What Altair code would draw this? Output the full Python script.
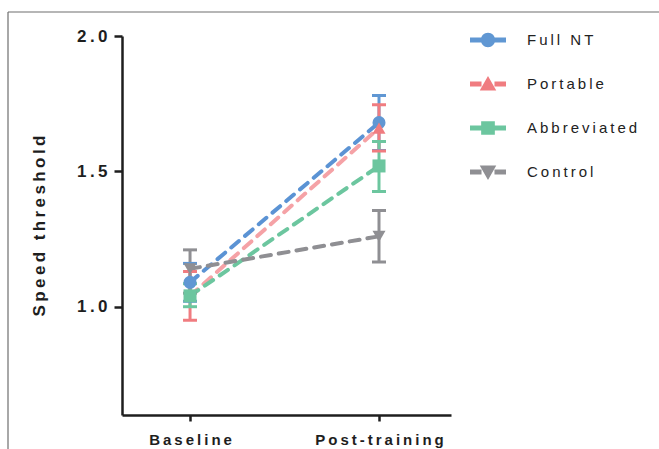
import json
import altair as alt
import pandas as pd

# ---- data ----
series = ["Full NT", "Portable", "Abbreviated", "Control"]
timepoints = ["Baseline", "Post-training"]
baseline_mean = [1.09, 1.04, 1.04, 1.14]
baseline_lo = [1.02, 0.95, 1.00, 1.05]
baseline_hi = [1.16, 1.13, 1.085, 1.21]
post_mean = [1.68, 1.66, 1.52, 1.26]
post_lo = [1.577, 1.575, 1.426, 1.165]
post_hi = [1.78, 1.746, 1.61, 1.355]

marker_colors = ["#6097d3", "#f07c80", "#6cc69f", "#8f8f93"]
line_colors = ["#5b93d4", "#f5a2a6", "#6cc69f", "#8f8f93"]
shapes = ["circle", "triangle-up", "square", "triangle-down"]

# legend glyphs: short line with the marker in the middle (unit box -1..1)
bar_l = "M-1,-0.14H-0.36V0.14H-1Z"
bar_r = "M0.36,-0.14H1V0.14H0.36Z"
legend_paths = [
    bar_l + bar_r + "M-0.4,0A0.4,0.4,0,1,1,0.4,0A0.4,0.4,0,1,1,-0.4,0Z",
    bar_l + bar_r + "M0,-0.44L0.46,0.36L-0.46,0.36Z",
    bar_l + bar_r + "M-0.38,-0.38H0.38V0.38H-0.38Z",
    bar_l + bar_r + "M0,0.44L0.46,-0.36L-0.46,-0.36Z",
]

rows = []
for i, s in enumerate(series):
    rows.append(dict(series=s, order=i, t=0, mean=baseline_mean[i], lo=baseline_lo[i], hi=baseline_hi[i]))
    rows.append(dict(series=s, order=i, t=1, mean=post_mean[i], lo=post_lo[i], hi=post_hi[i]))
df = pd.DataFrame(rows)

SP = "\u2009"
FONT = "Liberation Sans"

xscale = alt.Scale(domain=[-0.36, 1.381], nice=False, zero=False)
yscale = alt.Scale(domain=[0.6, 2.0], nice=False, zero=False)

x_enc = alt.X(
    "t:Q",
    scale=xscale,
    axis=alt.Axis(
        values=[0, 1],
        title=None,
        labelExpr=f"join(split({json.dumps(timepoints)}[datum.value], ''), '{SP}')",
        labelFontSize=15,
        labelPadding=11,
        tickSize=6,
        labelAngle=0,
    ),
)
y_axis = alt.Axis(
    values=[1.0, 1.5, 2.0],
    title=SP.join("Speed threshold"),
    labelExpr=f"join(split(format(datum.value, '.1f'), ''), '{SP}')",
    labelFontSize=17,
    labelPadding=7,
    tickSize=8,
    titleFontSize=17,
    titlePadding=28,
)

color_enc = alt.Color("series:N", scale=alt.Scale(domain=series, range=marker_colors), legend=None)

legend_def = alt.Legend(
    title=None,
    orient="none",
    legendX=348,
    legendY=-14,
    padding=0,
    symbolSize=1296,
    symbolStrokeWidth=0,
    symbolOpacity=1,
    labelOffset=21,
    rowPadding=18,
    labelFontSize=15,
    labelFont=FONT,
    labelColor="#222222",
    labelExpr=f"join(split(datum.label, ''), '{SP}')",
)

base = alt.Chart(df)

frame_top = alt.Chart(alt.Data(values=[{}])).mark_rule(color="#6e6e6e", strokeWidth=1.2).encode(
    x=alt.value(-114), x2=alt.value(537), y=alt.value(-24)
)
frame_left = alt.Chart(alt.Data(values=[{}])).mark_rule(color="#6e6e6e", strokeWidth=1.2).encode(
    x=alt.value(-114), y=alt.value(-24), y2=alt.value(413)
)

lines = base.mark_line(strokeDash=[10, 8], strokeWidth=4, strokeCap="round").encode(
    x=x_enc,
    y=alt.Y("mean:Q", scale=yscale, axis=y_axis),
    stroke=alt.Stroke("series:N", scale=alt.Scale(domain=series, range=line_colors), legend=None),
    detail="series:N",
)

err = base.mark_rule(strokeWidth=3, opacity=1).encode(
    x="t:Q", y="lo:Q", y2="hi:Q", color=color_enc
)
cap_lo = base.mark_tick(orient="horizontal", size=14, thickness=3, opacity=1).encode(
    x="t:Q", y="lo:Q", color=color_enc
)
cap_hi = base.mark_tick(orient="horizontal", size=14, thickness=3, opacity=1).encode(
    x="t:Q", y="hi:Q", color=color_enc
)
points = base.mark_point(filled=True, size=170, opacity=1).encode(
    x="t:Q",
    y="mean:Q",
    color=color_enc,
    shape=alt.Shape("series:N", scale=alt.Scale(domain=series, range=shapes), legend=None),
)

legend_layer = base.mark_point(filled=True, size=1296, opacity=1, strokeWidth=0).encode(
    x="t:Q",
    y="mean:Q",
    color=alt.Color("series:N", scale=alt.Scale(domain=series, range=marker_colors), legend=legend_def),
    shape=alt.Shape("series:N", scale=alt.Scale(domain=series, range=legend_paths), legend=legend_def),
).transform_filter("false")

chart = (
    alt.layer(frame_top, frame_left, lines, err, cap_lo, cap_hi, points, legend_layer)
    .resolve_scale(shape="independent", color="independent")
    .properties(
        width=329,
        height=379,
        autosize=alt.AutoSizeParams(type="none"),
        padding={"left": 122, "top": 36, "right": 208, "bottom": 34},
        background="white",
    )
    .configure_view(stroke=None)
    .configure_legend(symbolSize=1296, symbolStrokeWidth=0, labelFontSize=15, labelFont=FONT)
    .configure_axis(
        grid=False,
        domainColor="#1e1e1e",
        domainWidth=2.5,
        tickColor="#1e1e1e",
        tickWidth=2.5,
        labelFont=FONT,
        labelFontWeight="bold",
        labelColor="#1e1e1e",
        titleFont=FONT,
        titleFontWeight="bold",
        titleColor="#1e1e1e",
    )
)

chart.save("out.html", embed_options={"renderer": "svg", "actions": False})
